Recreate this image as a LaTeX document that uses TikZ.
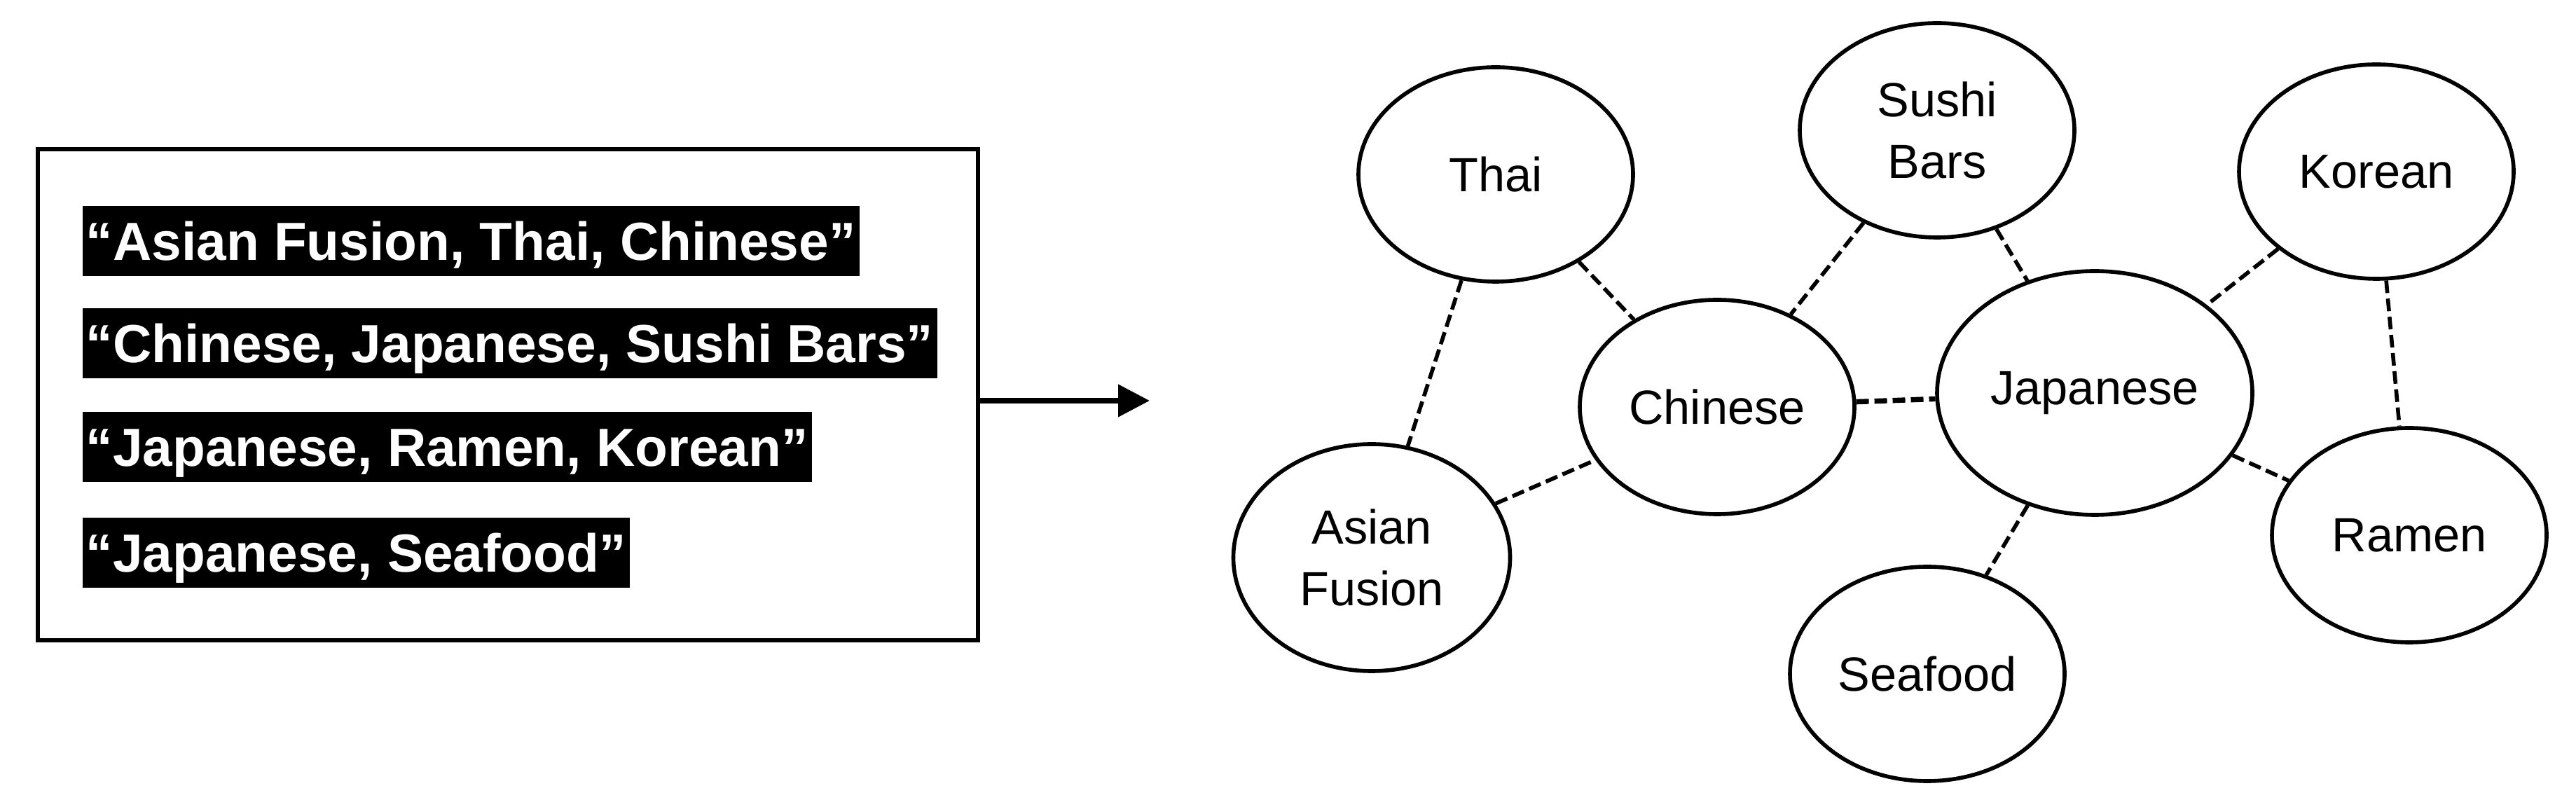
\documentclass[tikz,border=0pt]{standalone}
\usepackage{fontspec}
\setmainfont{Liberation Sans}
\usetikzlibrary{shapes.geometric,arrows.meta}

\begin{document}
\begin{tikzpicture}[
  cuisine/.style={ellipse, draw, line width=1.6pt, inner sep=0pt,
    minimum width=3.92cm, minimum height=3.06cm, align=center,
    font=\fontsize{19.5}{25}\selectfont},
  tag/.style={fill=black, text=white, anchor=base west, inner xsep=1.5pt, inner ysep=0pt,
    text height=22.2pt, text depth=6.3pt, font=\fontsize{21.8}{26}\selectfont\bfseries},
  link/.style={line width=1.6pt, dash pattern=on 1.8mm off 0.8mm}]
\useasboundingbox (0,0) rectangle (36.77,11.52);

% list of tags
\node[draw, line width=1.9pt, minimum width=13.42cm, minimum height=7.01cm] at (7.25,5.885) (list) {};
\node[tag] at (1.17,7.80) (t1) {“Asian Fusion, Thai, Chinese”};
\node[tag] at (1.17,6.34) (t2) {“Chinese, Japanese, Sushi Bars”};
\node[tag] at (1.17,4.86) (t3) {“Japanese, Ramen, Korean”};
\node[tag] at (1.17,3.35) (t4) {“Japanese, Seafood”};

\coordinate (tip) at (16.41,5.80);
\draw[line width=2.2pt, -{Triangle[length=4.5mm,width=4.5mm]}] (list.east |- tip) -- (tip);

% graph
\node[cuisine] at (21.35,9.03) (thai) {Thai};
\node[cuisine] at (27.65,9.66) (sushi) {Sushi\\Bars};
\node[cuisine] at (33.92,9.07) (korean) {Korean};
\node[cuisine] at (24.51,5.71) (chinese) {Chinese};
\node[cuisine, minimum width=4.5cm, minimum height=3.48cm] at (29.90,5.91) (japanese) {Japanese};
\node[cuisine, minimum width=3.95cm, minimum height=3.24cm] at (19.58,3.56) (fusion) {Asian\\Fusion};
\node[cuisine] at (34.39,3.88) (ramen) {Ramen};
\node[cuisine] at (27.51,1.90) (seafood) {Seafood};

\draw[link] (thai) -- (fusion);
\draw[link] (thai) -- (chinese);
\draw[link] (fusion) -- (chinese);
\draw[link] (sushi) -- (chinese);
\draw[link] (sushi) -- (japanese);
\draw[link, line width=2.1pt] (chinese) -- (japanese);
\draw[link] (korean) -- (japanese);
\draw[link] (korean) -- (ramen);
\draw[link] (japanese) -- (ramen);
\draw[link] (japanese) -- (seafood);

\end{tikzpicture}
\end{document}
